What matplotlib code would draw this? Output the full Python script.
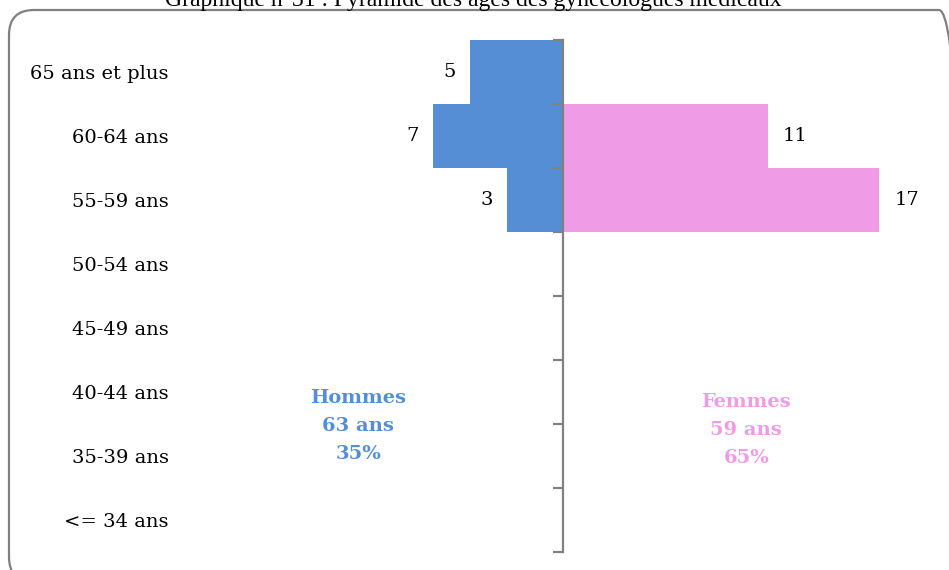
import numpy as np
import matplotlib.pyplot as plt
from matplotlib.patches import FancyBboxPatch

# Tranches d'âge (de bas en haut)
tranches = ["<= 34 ans", "35-39 ans", "40-44 ans", "45-49 ans",
            "50-54 ans", "55-59 ans", "60-64 ans", "65 ans et plus"]
hommes = [0, 0, 0, 0, 0, 3, 7, 5]
femmes = [0, 0, 0, 0, 0, 17, 11, 0]

bleu = '#558ED5'
rose = '#F09BE6'
gris = '#808080'
police = 'DejaVu Serif'

fig = plt.figure(figsize=(9.49, 5.70), dpi=100)

# Cadre arrondi autour du graphique (en pouces)
cadre = FancyBboxPatch((0.09, -0.12), 9.55, 5.72,
                       boxstyle="round,pad=0,rounding_size=0.25",
                       transform=fig.dpi_scale_trans, facecolor='none',
                       edgecolor=gris, linewidth=1.6, zorder=-1)
fig.patches.append(cadre)

fig.text(165 / 949, 564 / 570,
         "Graphique n°31 : Pyramide des âges des gynécologues médicaux",
         family='Liberation Serif', fontsize=17, va='baseline', ha='left')

ax = fig.add_axes([191 / 949, 18 / 570, 744 / 949, 512 / 570])
ax.set_facecolor('none')

y = np.arange(len(tranches))
ax.barh(y, -np.array(hommes), height=1.0, color=bleu)
ax.barh(y, femmes, height=1.0, color=rose)

for i, v in enumerate(hommes):
    if v:
        ax.annotate(str(v), (-v, i), xytext=(-10, 0), textcoords='offset points',
                    ha='right', va='center', family=police, fontsize=14)
for i, v in enumerate(femmes):
    if v:
        ax.annotate(str(v), (v, i), xytext=(11, 0), textcoords='offset points',
                    ha='left', va='center', family=police, fontsize=14)

ax.set_xlim(-20, 20)
ax.set_ylim(-0.5, len(tranches) - 0.5)

# Axe central avec graduations aux limites des tranches
for s in ['top', 'bottom', 'left']:
    ax.spines[s].set_visible(False)
ax.spines['right'].set_position(('data', 0))
ax.spines['right'].set_color(gris)
ax.spines['right'].set_linewidth(1.6)
ax.set_xticks([])
ax.set_yticks(y)
ax.set_yticklabels(tranches, family=police, fontsize=14)
ax.set_yticks(np.arange(-0.5, len(tranches)), minor=True)
ax.tick_params(axis='y', which='major', length=0, pad=16, left=True, right=False)
ax.tick_params(axis='y', which='minor', left=False, right=True, direction='in',
               length=7, width=1.6, color=gris)

ax.text(-11.0, 1.47, "Hommes\n63 ans\n35%", color=bleu, fontweight='bold',
        family=police, fontsize=14, ha='center', va='center', linespacing=1.7)
ax.text(9.85, 1.41, "Femmes\n59 ans\n65%", color=rose, fontweight='bold',
        family=police, fontsize=14, ha='center', va='center', linespacing=1.7)

plt.savefig('out.png', dpi=100)
